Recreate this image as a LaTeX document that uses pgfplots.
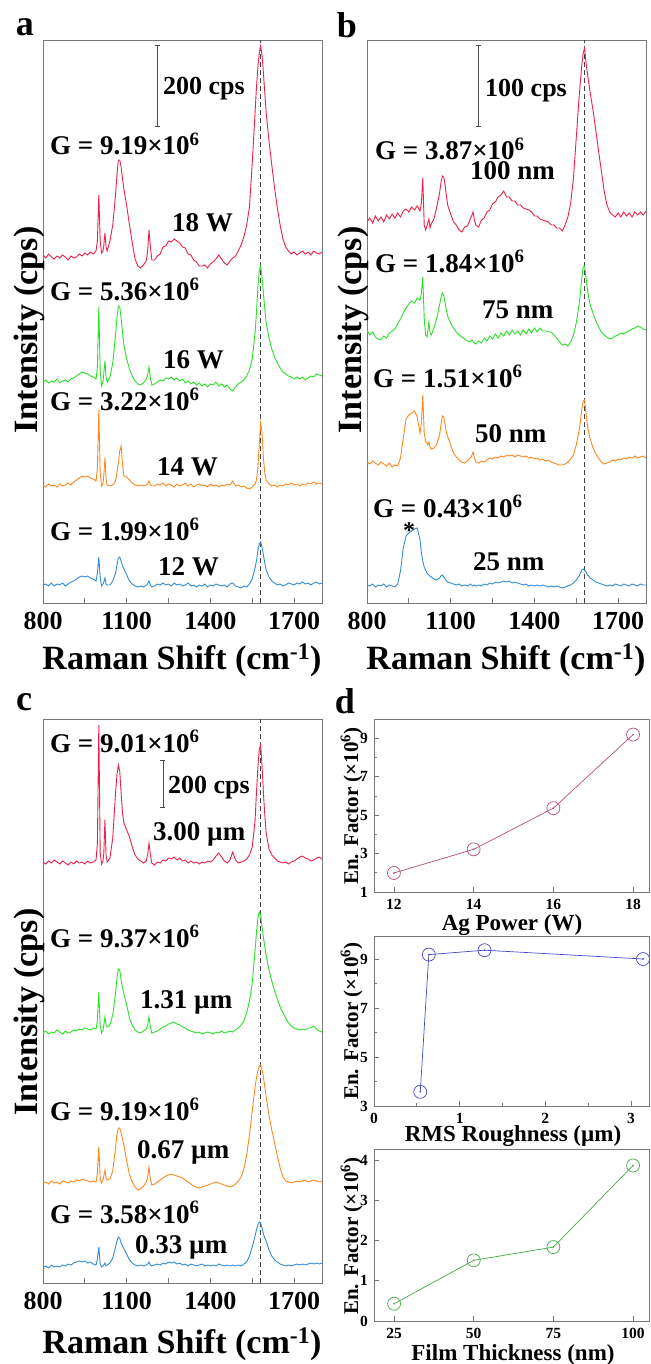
\documentclass[border=0pt]{standalone}
\usepackage{pgfplots}
\pgfplotsset{compat=1.18}
\usepackage{pgfplotstable}
\usepackage{fontspec}
\setmainfont{Liberation Serif}
\newcommand\fs[1]{\fontsize{#1}{#1}\selectfont\bfseries}
\definecolor{cR}{RGB}{236,32,74}
\definecolor{cG}{RGB}{40,225,40}
\definecolor{cO}{RGB}{255,135,30}
\definecolor{cB}{RGB}{50,140,215}
\definecolor{dA}{RGB}{178,78,125}
\definecolor{dB}{RGB}{70,70,210}
\definecolor{dC}{RGB}{70,170,70}
\definecolor{frame}{RGB}{120,120,120}

% panel a: 18 W, 16 W, 14 W, 12 W (y in offset intensity units)
\pgfplotstableread{
x r g o b
800 348 221 118 18
810 345 223 116 19
820 349 220 119 17
830 346 222 117 20
840 344 221 118 17
850 347 224 116 19
860 345 220 119 18
870 348 222 117 20
880 346 223 118 17
890 343 221 120 19
900 347 224 118 21
910 345 225 121 22
920 346 227 123 24
930 349 229 125 26
940 347 231 127 27
950 350 230 126 26
960 348 229 127 27
970 351 227 125 25
980 349 226 124 24
990 352 224 122 22
995 362 236 135 30
1000 408 296 193 46
1005 362 232 130 25
1010 350 217 117 17
1015 352 221 119 19
1018 358 230 128 21
1022 370 242 145 25
1026 356 226 124 19
1030 352 221 118 18
1040 362 226 117 18
1050 378 240 118 22
1060 408 268 122 30
1065 428 285 130 38
1070 443 297 140 45
1075 443 296 152 46
1080 436 285 157 42
1085 424 270 138 37
1090 414 258 127 34
1100 397 244 126 28
1110 378 234 123 22
1120 360 227 120 19
1130 344 222 118 17
1140 337 219 117 16
1150 335 218 118 17
1160 338 220 117 16
1170 342 224 118 18
1175 352 228 119 19
1180 373 236 122 22
1185 356 225 118 18
1190 343 218 117 16
1200 343 219 117 17
1210 347 221 119 19
1220 349 223 118 18
1230 356 222 120 20
1240 357 225 117 18
1250 362 224 119 19
1260 361 226 118 17
1270 364 223 116 20
1280 362 225 119 18
1290 360 222 117 19
1300 356 224 118 17
1310 355 220 120 18
1320 349 222 117 20
1330 348 219 119 17
1340 343 221 116 18
1350 341 218 118 16
1360 337 220 119 18
1370 337 217 117 17
1380 338 219 118 19
1390 335 216 116 16
1400 339 219 119 18
1410 341 218 117 17
1420 344 221 118 19
1430 348 217 116 18
1440 344 219 118 17
1450 340 216 117 18
1460 338 218 119 16
1470 342 214 118 19
1480 345 212 122 20
1490 347 216 117 17
1500 352 219 118 16
1510 358 221 116 15
1520 366 223 117 17
1530 378 227 115 16
1540 396 233 114 19
1550 440 244 116 24
1560 490 270 119 35
1565 515 290 123 42
1570 535 315 134 52
1575 550 332 158 59
1580 557 337 180 61
1585 548 326 170 56
1590 530 310 145 48
1595 510 294 130 40
1600 490 280 123 33
1610 462 265 119 26
1620 438 254 117 22
1630 415 246 118 20
1640 395 240 116 18
1650 378 235 118 19
1660 364 231 117 17
1670 356 229 119 18
1680 352 227 118 20
1690 349 226 120 19
1700 351 224 118 18
1710 348 226 119 20
1720 350 224 117 19
1730 352 226 119 21
1740 349 223 118 19
1750 351 225 120 20
1760 348 227 119 18
1770 352 226 121 20
1780 350 229 119 21
1790 349 228 120 19
1800 351 227 119 20
}\tabA

% panel b: 100 nm, 75 nm, 50 nm, 25 nm
\pgfplotstableread{
x r g o b
800 381 273 141 18
810 385 268 139 17
820 380 271 142 19
830 387 266 140 16
840 382 264 138 18
850 386 263 141 17
860 381 267 139 19
870 388 265 137 16
880 384 270 140 18
890 389 272 136 17
900 385 274 138 16
910 390 279 137 19
920 386 284 145 32
930 392 290 165 55
940 394 295 184 67
950 391 299 188 70
960 396 302 190 72
970 393 300 192 74
980 397 305 186 75
990 392 303 170 63
995 400 310 180 50
1000 425 326 208 42
1005 378 285 170 36
1010 373 268 162 33
1015 377 266 160 30
1018 380 272 158 29
1022 384 281 161 28
1026 375 270 156 27
1030 379 268 154 26
1040 384 275 155 24
1050 396 285 159 23
1060 410 298 168 25
1065 420 305 178 27
1070 427 310 187 28
1075 426 308 186 26
1080 418 300 178 24
1085 406 292 170 22
1090 397 286 166 21
1100 389 280 158 20
1110 381 275 150 19
1120 378 271 146 18
1130 373 268 143 19
1140 371 266 141 17
1150 376 264 140 18
1160 377 262 142 17
1170 384 261 145 19
1175 387 263 147 18
1180 391 262 151 17
1185 383 260 145 18
1190 378 259 141 17
1200 376 262 140 18
1210 383 260 142 17
1220 385 265 141 19
1230 391 262 143 18
1240 393 267 145 20
1250 399 264 144 19
1260 401 269 146 21
1270 406 265 145 20
1280 408 270 147 21
1290 412 267 146 22
1300 406 272 148 21
1310 406 268 147 22
1320 402 273 148 20
1330 402 269 146 21
1340 398 272 148 20
1350 398 268 147 19
1360 395 273 146 18
1370 394 269 147 19
1380 393 274 145 17
1390 391 270 146 18
1400 387 275 144 17
1410 387 271 145 18
1420 384 275 143 17
1430 383 272 144 18
1440 382 272 142 17
1450 381 271 143 16
1460 378 271 141 17
1470 378 268 140 16
1480 375 265 139 17
1490 375 261 138 16
1500 372 258 138 15
1510 378 259 139 16
1520 386 257 141 17
1530 400 261 144 18
1540 425 268 148 20
1550 465 280 158 23
1560 505 298 172 27
1565 522 310 182 30
1570 538 325 194 33
1575 550 336 202 34
1580 555 337 203 33
1585 540 325 190 31
1590 530 314 178 28
1595 520 305 170 27
1600 510 298 164 25
1610 493 290 155 23
1620 473 282 149 21
1630 452 276 145 20
1640 432 271 141 19
1650 412 268 139 18
1660 398 266 140 17
1670 391 264 141 18
1680 388 265 143 17
1690 386 267 142 19
1700 390 268 144 18
1710 386 270 143 17
1720 391 269 145 19
1730 387 271 144 18
1740 390 272 146 17
1750 386 274 145 19
1760 391 275 147 18
1770 388 277 145 17
1780 391 276 146 19
1790 388 274 147 18
1800 392 273 145 18
}\tabB

% panel c: 3.00, 1.31, 0.67, 0.33 um
\pgfplotstableread{
x r g o b
800 421 250 100 16
810 419 252 101 17
820 422 249 99 15
830 420 251 102 18
840 423 250 100 16
850 421 253 101 17
860 419 251 99 16
870 422 249 102 18
880 420 252 101 17
890 418 250 100 19
900 421 251 102 18
910 419 253 101 20
920 422 252 103 21
930 420 254 102 22
940 421 253 104 21
950 419 255 103 22
960 422 254 102 20
970 420 253 101 21
980 421 255 102 19
990 423 254 101 18
995 440 262 110 24
1000 558 291 136 36
1005 430 258 104 19
1010 419 250 100 16
1015 422 253 103 17
1018 430 258 107 18
1022 463 266 113 20
1026 428 258 105 17
1030 421 256 103 18
1040 425 258 104 20
1050 445 268 112 25
1060 490 290 135 36
1065 508 305 148 42
1070 518 314 155 46
1075 512 313 155 45
1080 490 303 150 40
1085 470 295 144 37
1090 460 289 138 34
1100 453 278 122 29
1110 446 265 108 23
1120 436 258 101 20
1130 428 253 96 18
1140 424 251 93 17
1150 422 250 94 18
1160 420 252 97 17
1170 422 254 101 18
1175 428 258 106 19
1180 440 266 116 21
1185 428 256 104 18
1190 420 250 98 17
1200 418 251 99 18
1210 421 252 101 19
1220 420 254 103 18
1230 423 256 105 20
1240 422 257 107 19
1250 425 259 108 21
1260 424 260 109 20
1270 426 261 108 21
1280 423 259 107 19
1290 425 258 106 20
1300 422 256 105 18
1310 423 255 103 19
1320 420 253 101 17
1330 422 252 99 19
1340 420 251 97 18
1350 421 250 96 17
1360 419 251 95 18
1370 421 249 96 19
1380 420 250 97 17
1390 422 251 98 18
1400 421 250 99 17
1410 423 249 100 18
1420 427 251 101 17
1430 430 250 100 19
1440 426 252 99 18
1450 422 250 98 17
1460 420 251 97 18
1470 423 252 96 17
1480 431 251 97 18
1490 423 253 99 17
1500 420 255 102 18
1510 421 258 106 17
1520 422 262 114 19
1530 424 270 128 21
1540 428 282 148 27
1550 436 300 172 36
1560 462 332 196 47
1565 490 350 205 53
1570 515 365 212 58
1575 533 371 217 61
1580 538 368 218 60
1585 518 356 213 55
1590 490 346 206 49
1595 468 336 196 45
1600 450 327 186 42
1610 434 313 168 33
1620 428 302 153 27
1630 425 292 140 23
1640 422 284 127 21
1650 421 276 115 19
1660 420 270 106 18
1670 421 265 102 17
1680 419 260 101 18
1690 421 257 100 17
1700 422 255 101 18
1710 424 254 102 19
1720 426 253 101 18
1730 427 254 102 19
1740 425 253 103 18
1750 424 255 101 19
1760 422 255 102 20
1770 423 257 103 19
1780 425 254 102 20
1790 426 252 101 19
1800 424 251 102 20
}\tabC

\pgfplotsset{
  spec/.style={scale only axis, width=279pt, height=563pt,
    xmin=800, xmax=1800, ymin=0, ymax=563,
    axis line style={draw=frame, line width=0.8pt},
    ytick=\empty, xtick={800,1100,1400,1700}, minor xtick={950,1250,1550},
    tick align=inside, xtick pos=bottom, major tick length=5pt, minor tick length=5pt,
    tick style={draw=frame, line width=0.8pt},
    xticklabel style={font=\fs{26}, inner sep=0pt, yshift=-9pt},
    /pgf/number format/assume math mode=true,
    /pgf/number format/set thousands separator={},
    every axis plot/.append style={line width=0.9pt, mark=none}},
  dpan/.style={scale only axis, width=275pt,
    axis line style={draw=frame, line width=0.8pt},
    tick align=inside, xtick pos=bottom, ytick pos=left,
    major tick length=5pt, minor tick length=3pt,
    tick style={draw=frame, line width=0.8pt},
    xticklabel style={font=\fs{15.5}, inner sep=0pt, yshift=-7pt},
    yticklabel style={font=\fs{15.5}, inner sep=0pt, xshift=-6pt},
    /pgf/number format/assume math mode=true},
  dashl/.style={draw=black!75, dash pattern=on 5pt off 3pt, line width=0.8pt, mark=none}
}
\tikzset{sbar/.style={draw=black!70, line width=0.8pt}}

\begin{document}
\begin{tikzpicture}
\useasboundingbox (0pt,0pt) rectangle (650pt,-1364pt);

% ---------- panel a ----------
\begin{axis}[spec, at={(43pt,-603pt)}, anchor=south west]
\addplot[dashl] coordinates {(1580,0) (1580,563)};
\addplot[cR] table[x=x,y=r]{\tabA};
\addplot[cG] table[x=x,y=g]{\tabA};
\addplot[cO] table[x=x,y=o]{\tabA};
\addplot[cB] table[x=x,y=b]{\tabA};
\draw[sbar] (axis cs:1209,477) -- (axis cs:1209,558);
\draw[sbar] (axis cs:1200,477) -- (axis cs:1218,477);
\draw[sbar] (axis cs:1200,558) -- (axis cs:1218,558);
\end{axis}

% ---------- panel b ----------
\begin{axis}[spec, at={(367pt,-603pt)}, anchor=south west]
\addplot[dashl] coordinates {(1580,0) (1580,563)};
\addplot[cR] table[x=x,y=r]{\tabB};
\addplot[cG] table[x=x,y=g]{\tabB};
\addplot[cO] table[x=x,y=o]{\tabB};
\addplot[cB] table[x=x,y=b]{\tabB};
\draw[sbar] (axis cs:1201,477) -- (axis cs:1201,558);
\draw[sbar] (axis cs:1192,477) -- (axis cs:1210,477);
\draw[sbar] (axis cs:1192,558) -- (axis cs:1210,558);
\end{axis}

% ---------- panel c ----------
\begin{axis}[spec, at={(43pt,-1283pt)}, anchor=south west, height=564pt, ymax=564]
\addplot[dashl] coordinates {(1580,0) (1580,564)};
\addplot[cR] table[x=x,y=r]{\tabC};
\addplot[cG] table[x=x,y=g]{\tabC};
\addplot[cO] table[x=x,y=o]{\tabC};
\addplot[cB] table[x=x,y=b]{\tabC};
\draw[sbar] (axis cs:1230,476) -- (axis cs:1230,523);
\draw[sbar] (axis cs:1221,476) -- (axis cs:1239,476);
\draw[sbar] (axis cs:1221,523) -- (axis cs:1239,523);
\end{axis}

% ---------- panel d ----------
\begin{axis}[dpan, at={(374pt,-892pt)}, anchor=south west, height=173pt,
  xmin=11.5, xmax=18.4, ymin=1, ymax=10,
  xtick={12,14,16,18}, ytick={1,3,5,7,9}, minor ytick={2,4,6,8}]
\addplot[dA, line width=0.7pt, mark=o, mark size=6.5pt, mark options={line width=0.7pt}]
  coordinates {(12,1.99) (14,3.22) (16,5.36) (18,9.19)};
\addplot[dA, only marks, mark=*, mark size=0.6pt]
  coordinates {(12,1.99) (14,3.22) (16,5.36) (18,9.19)};
\end{axis}

\begin{axis}[dpan, at={(374pt,-1106pt)}, anchor=south west, height=170pt,
  xmin=0, xmax=3.21, ymin=3, ymax=9.95,
  xtick={0,1,2,3}, minor xtick={0.5,1.5,2.5}, ytick={3,5,7,9}, minor ytick={4,6,8}]
\addplot[dB, line width=0.7pt, mark=o, mark size=6.5pt, mark options={line width=0.7pt}]
  coordinates {(0.54,3.58) (0.64,9.19) (1.29,9.37) (3.14,9.01)};
\addplot[dB, only marks, mark=*, mark size=0.6pt]
  coordinates {(0.54,3.58) (0.64,9.19) (1.29,9.37) (3.14,9.01)};
\end{axis}

\begin{axis}[dpan, at={(374pt,-1321pt)}, anchor=south west, height=172pt,
  xmin=18.7, xmax=105, ymin=0, ymax=4.28,
  xtick={25,50,75,100}, ytick={0,1,2,3,4}]
\addplot[dC, line width=0.7pt, mark=o, mark size=6.5pt, mark options={line width=0.7pt}]
  coordinates {(25,0.43) (50,1.51) (75,1.84) (100,3.87)};
\addplot[dC, only marks, mark=*, mark size=0.6pt]
  coordinates {(25,0.43) (50,1.51) (75,1.84) (100,3.87)};
\end{axis}

% ---------- texts ----------
\tikzset{lab/.style={anchor=base west, inner sep=0pt, font=\fs{27}}}
% panel letters
\node[font=\fs{36}, inner sep=0pt] at (25pt,-27pt) {a};
\node[font=\fs{36}, inner sep=0pt] at (347pt,-25pt) {b};
\node[font=\fs{36}, inner sep=0pt] at (24pt,-702pt) {c};
\node[font=\fs{36}, inner sep=0pt] at (345pt,-701pt) {d};

% panel a
\node[lab, font=\fs{26}] at (163pt,-95pt) {200 cps};
\node[lab] at (50pt,-155pt) {G = 9.19×10\textsuperscript{6}};
\node[lab] at (172pt,-232pt) {18 W};
\node[lab] at (50pt,-300pt) {G = 5.36×10\textsuperscript{6}};
\node[lab] at (163pt,-368pt) {16 W};
\node[lab] at (50pt,-410pt) {G = 3.22×10\textsuperscript{6}};
\node[lab] at (157pt,-475pt) {14 W};
\node[lab] at (50pt,-540pt) {G = 1.99×10\textsuperscript{6}};
\node[lab] at (158pt,-575pt) {12 W};

% panel b
\node[lab, font=\fs{26}] at (485pt,-97pt) {100 cps};
\node[lab] at (375pt,-160pt) {G = 3.87×10\textsuperscript{6}};
\node[lab] at (470pt,-180pt) {100 nm};
\node[lab] at (375pt,-272pt) {G = 1.84×10\textsuperscript{6}};
\node[lab] at (482pt,-318pt) {75 nm};
\node[lab] at (373pt,-387pt) {G = 1.51×10\textsuperscript{6}};
\node[lab] at (475pt,-442pt) {50 nm};
\node[lab] at (373pt,-517pt) {G = 0.43×10\textsuperscript{6}};
\node[lab] at (473pt,-570pt) {25 nm};
\node[anchor=base, inner sep=0pt, font=\fs{24}] at (409pt,-538pt) {*};

% panel c
\node[lab] at (50pt,-752pt) {G = 9.01×10\textsuperscript{6}};
\node[lab, font=\fs{26}] at (168pt,-793pt) {200 cps};
\node[lab] at (153pt,-840pt) {3.00 µm};
\node[lab] at (50pt,-947pt) {G = 9.37×10\textsuperscript{6}};
\node[lab] at (140pt,-1008pt) {1.31 µm};
\node[lab] at (50pt,-1120pt) {G = 9.19×10\textsuperscript{6}};
\node[lab] at (137pt,-1158pt) {0.67 µm};
\node[lab] at (50pt,-1223pt) {G = 3.58×10\textsuperscript{6}};
\node[lab] at (135pt,-1253pt) {0.33 µm};

% axis labels spectra
\node[anchor=base, inner sep=0pt, font=\fs{34}] at (182pt,-669pt) {Raman Shift (cm\textsuperscript{-1})};
\node[anchor=base, inner sep=0pt, font=\fs{34}] at (506pt,-669pt) {Raman Shift (cm\textsuperscript{-1})};
\node[anchor=base, inner sep=0pt, font=\fs{34}] at (182pt,-1353pt) {Raman Shift (cm\textsuperscript{-1})};
\node[anchor=base, inner sep=0pt, font=\fs{34}, rotate=90] at (37pt,-330pt) {Intensity (cps)};
\node[anchor=base, inner sep=0pt, font=\fs{34}, rotate=90] at (361pt,-330pt) {Intensity (cps)};
\node[anchor=base, inner sep=0pt, font=\fs{34}, rotate=90] at (37pt,-1012pt) {Intensity (cps)};

% axis labels panel d
\node[anchor=base, inner sep=0pt, font=\fs{23}] at (512pt,-930pt) {Ag Power (W)};
\node[anchor=base, inner sep=0pt, font=\fs{23}] at (513pt,-1141pt) {RMS Roughness (µm)};
\node[anchor=base, inner sep=0pt, font=\fs{23}] at (513pt,-1360pt) {Film Thickness (nm)};
\node[anchor=base, inner sep=0pt, font=\fs{21}, rotate=90] at (358pt,-806pt) {En. Factor (×10\textsuperscript{6})};
\node[anchor=base, inner sep=0pt, font=\fs{21}, rotate=90] at (358pt,-1021pt) {En. Factor (×10\textsuperscript{6})};
\node[anchor=base, inner sep=0pt, font=\fs{21}, rotate=90] at (358pt,-1236pt) {En. Factor (×10\textsuperscript{6})};
\end{tikzpicture}
\end{document}
